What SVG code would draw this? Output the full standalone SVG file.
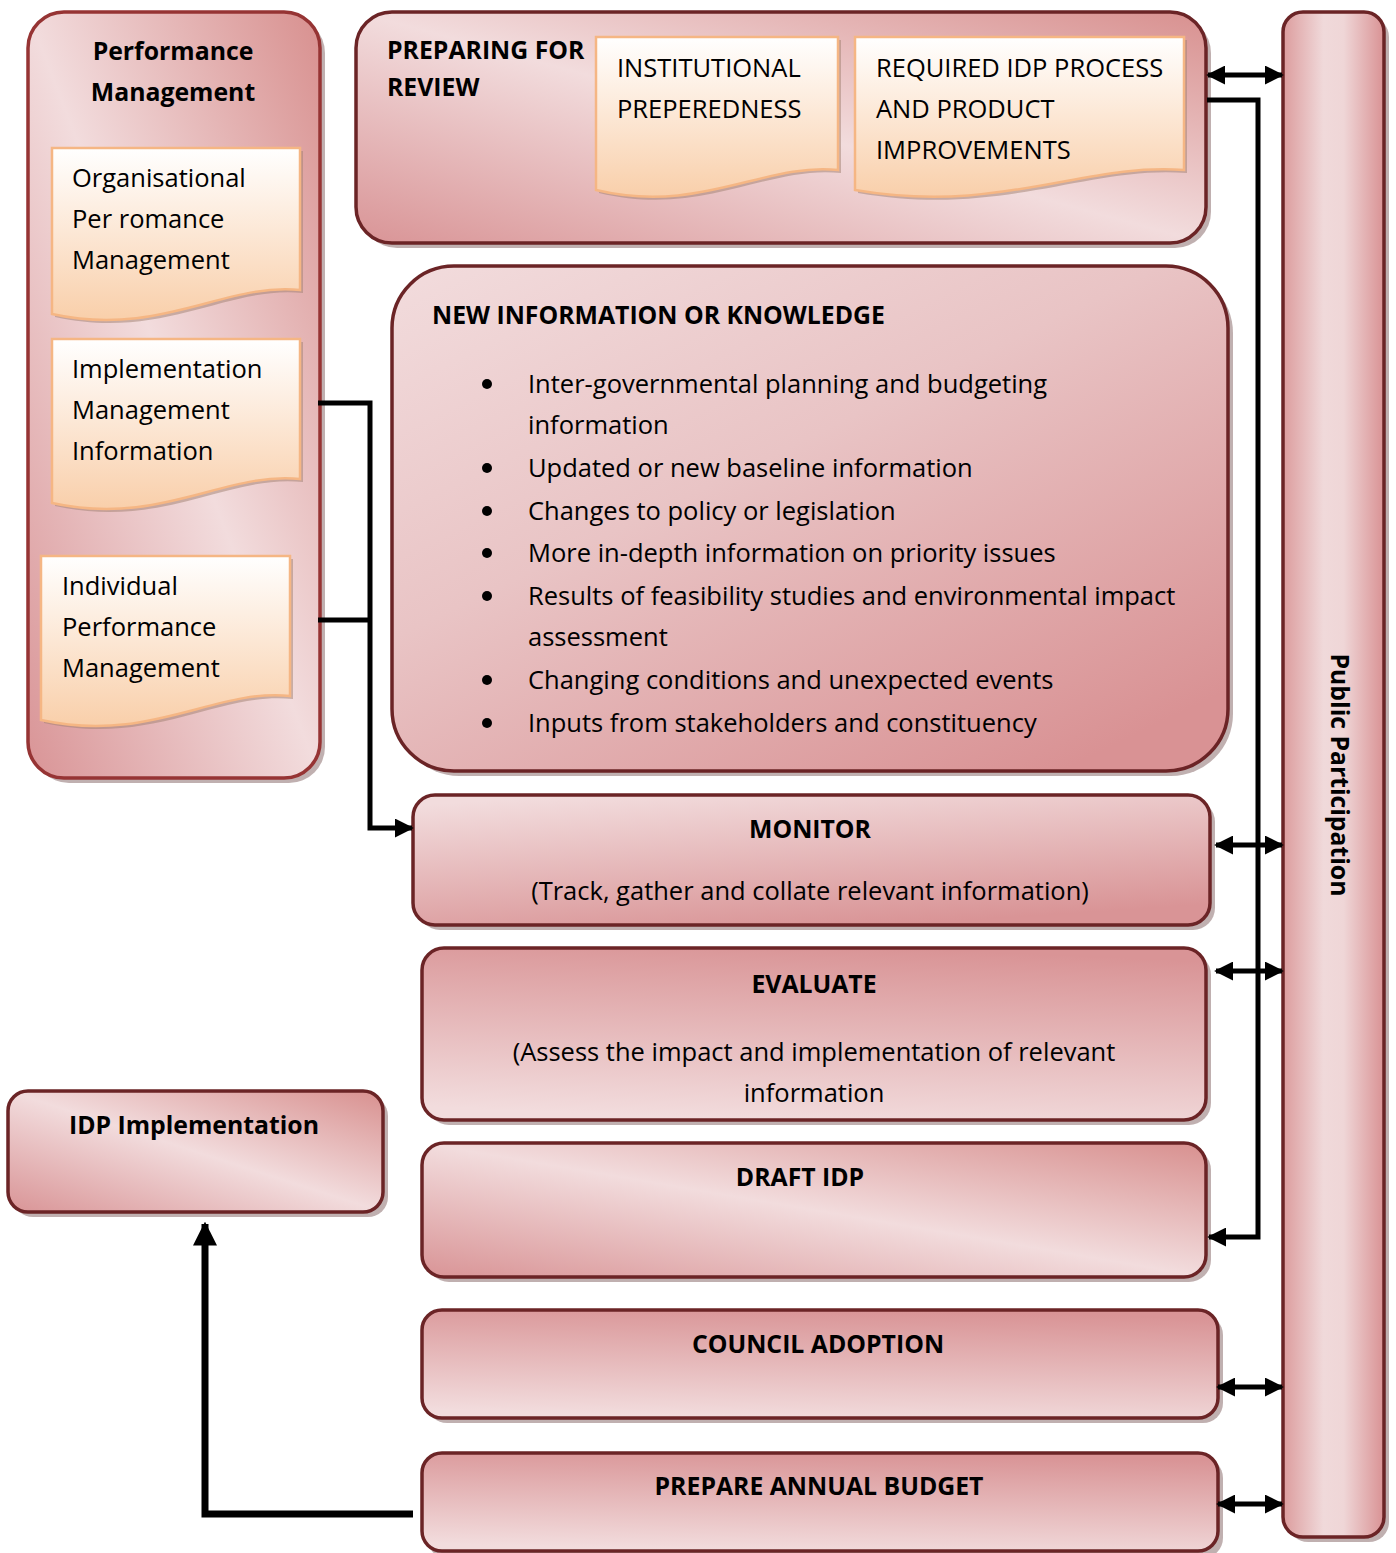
<svg xmlns="http://www.w3.org/2000/svg" width="1396" height="1553" viewBox="0 0 1396 1553">
  <defs>
    <!-- pink box fills -->
    <linearGradient id="gCross" x1="1" y1="0" x2="0" y2="1">
      <stop offset="0" stop-color="#d8908f"/>
      <stop offset="0.5" stop-color="#f2dcdd"/>
      <stop offset="1" stop-color="#d99496"/>
    </linearGradient>
    <linearGradient id="gDown" x1="0.2" y1="0" x2="0.6" y2="1">
      <stop offset="0" stop-color="#f2dcdd"/>
      <stop offset="1" stop-color="#d99496"/>
    </linearGradient>
    <linearGradient id="gUp" x1="0.6" y1="0" x2="0.4" y2="1">
      <stop offset="0" stop-color="#d99496"/>
      <stop offset="1" stop-color="#f2dcdd"/>
    </linearGradient>
    <linearGradient id="gNew" x1="0" y1="0" x2="0.8" y2="1">
      <stop offset="0" stop-color="#f2dcdd"/>
      <stop offset="0.45" stop-color="#e9c4c5"/>
      <stop offset="1" stop-color="#d99294"/>
    </linearGradient>
    <linearGradient id="gSide" x1="0" y1="0" x2="1" y2="0">
      <stop offset="0" stop-color="#dc9c9d"/>
      <stop offset="0.4" stop-color="#f0d9da"/>
      <stop offset="0.6" stop-color="#efd6d7"/>
      <stop offset="1" stop-color="#d99294"/>
    </linearGradient>
    <!-- peach document fill -->
    <linearGradient id="gDoc" x1="0" y1="0" x2="0" y2="1">
      <stop offset="0" stop-color="#ffffff"/>
      <stop offset="1" stop-color="#f9cfaa"/>
    </linearGradient>
    <marker id="ah" viewBox="0 0 10 10" refX="9" refY="5" markerWidth="19" markerHeight="19" orient="auto-start-reverse" markerUnits="userSpaceOnUse">
      <path d="M0,0 L10,5 L0,10 Z" fill="#000"/>
    </marker>
    <marker id="ahBig" viewBox="0 0 10 10" refX="9" refY="5" markerWidth="24" markerHeight="24" orient="auto" markerUnits="userSpaceOnUse">
      <path d="M0,0 L10,5 L0,10 Z" fill="#000"/>
    </marker>
    <style>
      .box { stroke: #6b2426; stroke-width: 3.5; }
      .shd { fill: #8c7070; opacity: 0.55; }
      .doc { fill: url(#gDoc); stroke: #f5b684; stroke-width: 2.5; }
      .dshd { fill: #a08070; opacity: 0.5; }
      .t { font-family: "Open Sans", "Liberation Sans", sans-serif; font-size: 25.5px; fill: #000; }
      .b { font-family: "Open Sans", "Liberation Sans", sans-serif; font-size: 24.8px; font-weight: bold; fill: #000; }
      .c { text-anchor: middle; }
      .ln { fill: none; stroke: #000; stroke-width: 5; }
    </style>
  </defs>

  <!-- Performance Management -->
  <g id="performance-management">
    <rect class="shd" x="33" y="17" width="292" height="766" rx="36"/>
    <rect class="box" x="28" y="12" width="292" height="766" rx="36" fill="url(#gCross)" style="stroke:#963434"/>
    <text class="b c" x="173" y="60">Performance</text>
    <text class="b c" x="173" y="101">Management</text>
  </g>

  <g id="organisational-doc">
    <path class="dshd" transform="translate(3,3)" d="M52,148 H300 V290 C225,282 160,338 52,314 Z"/>
    <path class="doc" d="M52,148 H300 V290 C225,282 160,338 52,314 Z"/>
    <text class="t" x="72" y="187">Organisational</text>
    <text class="t" x="72" y="228">Per romance</text>
    <text class="t" x="72" y="269">Management</text>
  </g>

  <g id="implementation-doc">
    <path class="dshd" transform="translate(3,3)" d="M52,339 H300 V479 C225,471 160,527 52,503 Z"/>
    <path class="doc" d="M52,339 H300 V479 C225,471 160,527 52,503 Z"/>
    <text class="t" x="72" y="378">Implementation</text>
    <text class="t" x="72" y="419">Management</text>
    <text class="t" x="72" y="460">Information</text>
  </g>

  <g id="individual-doc">
    <path class="dshd" transform="translate(3,3)" d="M41,556 H290 V696 C215,688 150,744 41,720 Z"/>
    <path class="doc" d="M41,556 H290 V696 C215,688 150,744 41,720 Z"/>
    <text class="t" x="62" y="595">Individual</text>
    <text class="t" x="62" y="636">Performance</text>
    <text class="t" x="62" y="677">Management</text>
  </g>

  <!-- Preparing for review -->
  <g id="preparing-for-review">
    <rect class="shd" x="361" y="17" width="850" height="231" rx="36"/>
    <rect class="box" x="356" y="12" width="850" height="231" rx="36" fill="url(#gCross)"/>
    <text class="b" x="387" y="59">PREPARING FOR</text>
    <text class="b" x="387" y="96">REVIEW</text>
  </g>

  <g id="institutional-doc">
    <path class="dshd" transform="translate(3,3)" d="M596,37 H838 V170 C765,162 700,215 596,190 Z"/>
    <path class="doc" d="M596,37 H838 V170 C765,162 700,215 596,190 Z"/>
    <text class="t" x="617" y="77">INSTITUTIONAL</text>
    <text class="t" x="617" y="118">PREPEREDNESS</text>
  </g>

  <g id="required-doc">
    <path class="dshd" transform="translate(3,3)" d="M855,37 H1184 V170 C1085,162 1000,215 855,190 Z"/>
    <path class="doc" d="M855,37 H1184 V170 C1085,162 1000,215 855,190 Z"/>
    <text class="t" x="876" y="77">REQUIRED IDP PROCESS</text>
    <text class="t" x="876" y="118">AND PRODUCT</text>
    <text class="t" x="876" y="159">IMPROVEMENTS</text>
  </g>

  <!-- New information or knowledge -->
  <g id="new-information">
    <rect class="shd" x="397" y="271" width="836" height="505" rx="62"/>
    <rect class="box" x="392" y="266" width="836" height="505" rx="62" fill="url(#gNew)"/>
    <text class="b" x="432" y="324">NEW INFORMATION OR KNOWLEDGE</text>
    <g fill="#000">
      <circle cx="487" cy="384" r="5"/>
      <circle cx="487" cy="468" r="5"/>
      <circle cx="487" cy="511" r="5"/>
      <circle cx="487" cy="553" r="5"/>
      <circle cx="487" cy="596" r="5"/>
      <circle cx="487" cy="680" r="5"/>
      <circle cx="487" cy="723" r="5"/>
    </g>
    <text class="t" x="528" y="393">Inter-governmental planning and budgeting</text>
    <text class="t" x="528" y="434">information</text>
    <text class="t" x="528" y="477">Updated or new baseline information</text>
    <text class="t" x="528" y="520">Changes to policy or legislation</text>
    <text class="t" x="528" y="562">More in-depth information on priority issues</text>
    <text class="t" x="528" y="605">Results of feasibility studies and environmental impact</text>
    <text class="t" x="528" y="646">assessment</text>
    <text class="t" x="528" y="689">Changing conditions and unexpected events</text>
    <text class="t" x="528" y="732">Inputs from stakeholders and constituency</text>
  </g>

  <!-- Process steps -->
  <g id="monitor">
    <rect class="shd" x="418" y="800" width="797" height="130" rx="22"/>
    <rect class="box" x="413" y="795" width="797" height="130" rx="22" fill="url(#gDown)"/>
    <text class="b c" x="810" y="838">MONITOR</text>
    <text class="t c" x="810" y="900">(Track, gather and collate relevant information)</text>
  </g>

  <g id="evaluate">
    <rect class="shd" x="427" y="953" width="784" height="172" rx="22"/>
    <rect class="box" x="422" y="948" width="784" height="172" rx="22" fill="url(#gUp)"/>
    <text class="b c" x="814" y="993">EVALUATE</text>
    <text class="t c" x="814" y="1061">(Assess the impact and implementation of relevant</text>
    <text class="t c" x="814" y="1102">information</text>
  </g>

  <g id="draft-idp">
    <rect class="shd" x="427" y="1148" width="784" height="134" rx="22"/>
    <rect class="box" x="422" y="1143" width="784" height="134" rx="22" fill="url(#gCross)"/>
    <text class="b c" x="800" y="1186">DRAFT IDP</text>
  </g>

  <g id="council-adoption">
    <rect class="shd" x="427" y="1315" width="796" height="108" rx="20"/>
    <rect class="box" x="422" y="1310" width="796" height="108" rx="20" fill="url(#gUp)"/>
    <text class="b c" x="818" y="1353">COUNCIL ADOPTION</text>
  </g>

  <g id="prepare-annual-budget">
    <rect class="shd" x="427" y="1458" width="796" height="100" rx="20"/>
    <rect class="box" x="422" y="1453" width="796" height="98" rx="20" fill="url(#gUp)"/>
    <text class="b c" x="819" y="1495">PREPARE ANNUAL BUDGET</text>
  </g>

  <g id="idp-implementation">
    <rect class="shd" x="13" y="1096" width="375" height="121" rx="20"/>
    <rect class="box" x="8" y="1091" width="375" height="121" rx="20" fill="url(#gCross)"/>
    <text class="b c" x="194" y="1134">IDP Implementation</text>
  </g>

  <g id="public-participation">
    <rect class="shd" x="1288" y="17" width="101" height="1525" rx="20"/>
    <rect class="box" x="1283" y="12" width="101" height="1525" rx="20" fill="url(#gSide)"/>
    <text class="b c" transform="translate(1331,775) rotate(90)">Public Participation</text>
  </g>

  <!-- Connectors -->
  <g id="connectors">
    <!-- two-way links to public participation -->
    <line class="ln" x1="1208" y1="75" x2="1282" y2="75" marker-start="url(#ah)" marker-end="url(#ah)"/>
    <line class="ln" x1="1216" y1="845" x2="1282" y2="845" marker-start="url(#ah)" marker-end="url(#ah)"/>
    <line class="ln" x1="1216" y1="971" x2="1282" y2="971" marker-start="url(#ah)" marker-end="url(#ah)"/>
    <line class="ln" x1="1218" y1="1387" x2="1282" y2="1387" marker-start="url(#ah)" marker-end="url(#ah)"/>
    <line class="ln" x1="1218" y1="1504" x2="1282" y2="1504" marker-start="url(#ah)" marker-end="url(#ah)"/>
    <!-- review feeds draft IDP -->
    <polyline class="ln" points="1207,100 1258,100 1258,1237 1209,1237" marker-end="url(#ah)"/>
    <!-- performance management feeds monitor -->
    <polyline class="ln" points="318,403 370,403 370,828 412,828" marker-end="url(#ah)"/>
    <line class="ln" x1="318" y1="620" x2="370" y2="620"/>
    <!-- budget leads to implementation -->
    <polyline class="ln" points="413,1514 205,1514 205,1224" style="stroke-width:7" marker-end="url(#ahBig)"/>
  </g>
</svg>
